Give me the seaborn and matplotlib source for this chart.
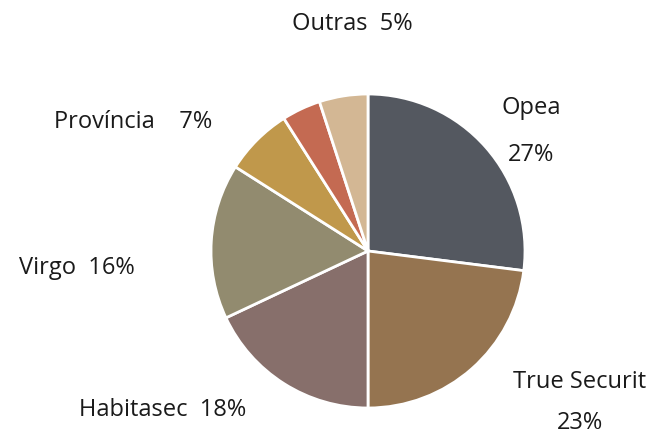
import matplotlib
matplotlib.use("Agg")
import matplotlib.pyplot as plt
import seaborn as sns

# data, clockwise from 12 o'clock
names = ["Opea", "True Securit", "Habitasec", "Virgo", "Província", "", "Outras"]
shares = [27, 23, 18, 16, 7, 4, 5]
colors = ["#545860", "#957450", "#876f6b", "#928b6f", "#c0984b", "#c46a52", "#d3b794"]
labels = [["Opea", "27%"], ["True Securit", "23%"], ["Habitasec  18%"], ["Virgo  16%"],
          ["Província    7%"], [], ["Outras  5%"]]

sns.set_theme(style="white")
plt.rcParams['font.family'] = ['Open Sans', 'DejaVu Sans']

W, H = 655, 437
fig = plt.figure(figsize=(W/100, H/100), dpi=100)
cx, cy, r = 368, 251, 157
ax = fig.add_axes([(cx - r)/W, 1 - (cy + r)/H, 2*r/W, 2*r/H])

ax.pie(shares, colors=colors, startangle=90, counterclock=False,
       wedgeprops=dict(edgecolor="white", linewidth=2))
ax.set_xlim(-1.0, 1.0)
ax.set_ylim(-1.0, 1.0)
ax.set_aspect("equal")

# label positions in pixels (centre of first line), second line below
pos = {0: (531, 108), 1: (580, 382), 2: (163, 410), 3: (77, 268), 4: (133, 122), 6: (352, 24)}
gap = {0: 47, 1: 41}
for i, (x, y) in pos.items():
    for k, line in enumerate(labels[i]):
        fig.text(x/W, 1 - (y + gap.get(i, 0)*k)/H, line, ha="center", va="center",
                 fontsize=17, color="#1a1a1a")

plt.savefig("out.png", dpi=100, facecolor="white")
